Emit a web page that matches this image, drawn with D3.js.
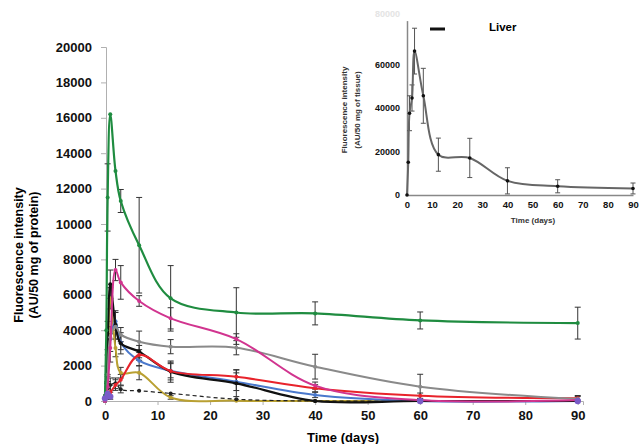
<!DOCTYPE html>
<html>
<head>
<meta charset="utf-8">
<script src="https://cdn.jsdelivr.net/npm/d3@7"></script>
<style>
	body { margin: 0; background: #fff; }
	text { font-family: "Liberation Sans", Arial, sans-serif; }
	.tick text { font-weight: bold; fill: #111; }
</style>
</head>
<body>
<div id="chart"></div>
<script>
//sampling times (days)
let days = [0, 0.25, 0.5, 1, 2, 3, 6.5, 12.5, 25, 40, 60, 90];

//organ series (AU/50 mg of protein)
let green = [300, 4000, 11500, 16200, 13000, 11300, 8800, 5800, 5000, 4950, 4550, 4400];
let greenErr = [0, 0, 1900, 0, 0, 650, 2700, 1850, 1400, 650, 480, 900];
let magenta = [0, 300, 800, 3000, 7400, 6700, 5650, 4670, 3500, 870, 50, 50];
let magentaErr = [0, 0, 300, 800, 600, 950, 300, 600, 300, 200, 0, 0];
let gray = [0, 500, 1500, 3600, 4200, 3750, 3350, 3070, 3010, 1940, 810, 110];
let grayErr = [0, 0, 0, 0, 0, 400, 600, 400, 400, 700, 700, 200];
let black = [0, 1000, 3000, 6600, 4300, 3260, 2790, 1660, 1000, 0, 0, 0];
let blackErr = [0, 0, 1500, 800, 800, 600, 350, 600, 750, 0, 0, 0];
let blue = [0, 800, 2000, 3500, 4500, 3300, 2280, 1710, 1090, 340, 0, 0];
let blueErr = [0, 0, 900, 700, 500, 400, 300, 400, 500, 150, 0, 0];
let red = [200, 300, 400, 500, 900, 1200, 2600, 1690, 1370, 720, 300, 150];
let redErr = [0, 0, 300, 400, 300, 300, 300, 500, 400, 200, 150, 100];
let yellow = [0, 500, 2000, 5800, 3000, 1600, 1600, 200, 20, 0, 0, 0];
let yellowErr = [0, 0, 600, 600, 500, 300, 400, 100, 0, 0, 0, 0];
let dashed = [300, 500, 700, 900, 1000, 660, 580, 430, 100, 0, 0, 0];
let dashedErr = [0, 0, 300, 400, 300, 200, 0, 0, 0, 0, 0, 0];

//purple group only shows as markers on the baseline
let purpleDays = [0, 0.5, 1, 60, 90];
let purple = [150, 400, 250, 0, 0];

//liver inset (AU/50 mg of tissue)
let liverDays = [0, 0.5, 1, 2, 3, 6.5, 12.5, 25, 40, 60, 90];
let liver = [0, 15000, 37500, 44500, 66000, 45500, 18500, 17000, 6500, 4000, 3000];
let liverErr = [0, 0, 8000, 6000, 10500, 12600, 7600, 9000, 6000, 3000, 2500];

let yTicks = d3.range(0, 20001, 2000);
let xTicks = d3.range(0, 91, 10);
let liverYTicks = [0, 20000, 40000, 60000];

let series = [
	{ values: yellow, err: yellowErr, color: "#b9a032", dash: null, width: 2 },
	{ values: dashed, err: dashedErr, color: "#222", dash: "4,3", width: 1.2 },
	{ values: blue, err: blueErr, color: "#4a78cc", dash: null, width: 2 },
	{ values: black, err: blackErr, color: "#111", dash: null, width: 2.2 },
	{ values: red, err: redErr, color: "#e8232b", dash: null, width: 2 },
	{ values: gray, err: grayErr, color: "#8a8a8a", dash: null, width: 2 },
	{ values: magenta, err: magentaErr, color: "#d1348f", dash: null, width: 2 },
	{ values: green, err: greenErr, color: "#1f8c40", dash: null, width: 2.2 }
];

let svg = d3.select("#chart")
	.append("svg")
	.attr("width", 639)
	.attr("height", 444);

// main scales
let x = d3.scaleLinear().domain([0, 91]).range([105, 583]);
let y = d3.scaleLinear().domain([0, 20000]).range([401, 47]);

let xAxis = svg.append("g")
	.attr("transform", "translate(0,401)")
	.call(d3.axisBottom(x).tickValues(xTicks).tickSize(4).tickPadding(6).tickFormat(d3.format("d")));
xAxis.selectAll("text").style("font-size", "13px");

let yAxis = svg.append("g")
	.attr("transform", "translate(106,0)")
	.call(d3.axisLeft(y).tickValues(yTicks).tickSize(5).tickPadding(9).tickFormat(d3.format("d")));
yAxis.selectAll("text").style("font-size", "13px");

svg.selectAll(".domain, .tick line").attr("stroke", "#b0b0b0");

svg.append("text")
	.attr("x", 343)
	.attr("y", 442)
	.attr("text-anchor", "middle")
	.style("font-size", "13px")
	.style("font-weight", "bold")
	.text("Time (days)");

svg.append("text")
	.attr("transform", "translate(23,255) rotate(-90)")
	.attr("text-anchor", "middle")
	.style("font-size", "12.5px")
	.style("font-weight", "bold")
	.text("Fluorescence intensity");

svg.append("text")
	.attr("transform", "translate(38,255) rotate(-90)")
	.attr("text-anchor", "middle")
	.style("font-size", "12.5px")
	.style("font-weight", "bold")
	.text("(AU/50 mg of protein)");

let line = d3.line()
	.x(function (d, i) { return x(days[i]); })
	.y(function (d) { return y(d); })
	.curve(d3.curveCatmullRom.alpha(0.5));

// error bars first, then the lines
series.forEach(function (s) {
	let bars = svg.append("g")
		.selectAll("g")
		.data(s.values.map(function (v, i) { return { t: days[i], v: v, e: s.err[i] }; })
			.filter(function (d) { return d.e > 0; }))
		.enter().append("g")
		.attr("stroke", "#333")
		.attr("stroke-width", 1);
	bars.append("line")
		.attr("x1", function (d) { return x(d.t); })
		.attr("x2", function (d) { return x(d.t); })
		.attr("y1", function (d) { return y(d.v + d.e); })
		.attr("y2", function (d) { return y(Math.max(0, d.v - d.e)); });
	bars.append("line")
		.attr("x1", function (d) { return x(d.t) - 3; })
		.attr("x2", function (d) { return x(d.t) + 3; })
		.attr("y1", function (d) { return y(d.v + d.e); })
		.attr("y2", function (d) { return y(d.v + d.e); });
	bars.append("line")
		.attr("x1", function (d) { return x(d.t) - 3; })
		.attr("x2", function (d) { return x(d.t) + 3; })
		.attr("y1", function (d) { return y(Math.max(0, d.v - d.e)); })
		.attr("y2", function (d) { return y(Math.max(0, d.v - d.e)); });
});

series.forEach(function (s) {
	svg.append("path")
		.datum(s.values)
		.attr("fill", "none")
		.attr("stroke", s.color)
		.attr("stroke-width", s.width)
		.attr("stroke-dasharray", s.dash)
		.attr("d", line);

	svg.append("g")
		.selectAll("circle")
		.data(s.values)
		.enter().append("circle")
		.attr("cx", function (d, i) { return x(days[i]); })
		.attr("cy", function (d) { return y(d); })
		.attr("r", 2)
		.attr("fill", s.color);
});

svg.append("g")
	.selectAll("circle")
	.data(purple)
	.enter().append("circle")
	.attr("cx", function (d, i) { return x(purpleDays[i]); })
	.attr("cy", function (d) { return y(d); })
	.attr("r", 3.2)
	.attr("fill", "#7a5cc8");

// liver inset
let lx = d3.scaleLinear().domain([0, 90]).range([407, 633]);
let ly = d3.scaleLinear().domain([0, 80000]).range([195, 20.6]);

let inset = svg.append("g");

let lxAxis = inset.append("g")
	.attr("transform", "translate(0,195)")
	.call(d3.axisBottom(lx).tickValues(xTicks).tickSize(0).tickPadding(6));
lxAxis.selectAll("text").style("font-size", "9.5px");

let lyAxis = inset.append("g")
	.attr("transform", "translate(407,0)")
	.call(d3.axisLeft(ly).tickValues(liverYTicks).tickSize(0).tickPadding(7).tickFormat(d3.format("d")));
lyAxis.selectAll("text").style("font-size", "9px");

inset.selectAll(".domain").attr("stroke", "#888").attr("stroke-width", 1.5);

inset.append("text")
	.attr("x", 400)
	.attr("y", 17)
	.attr("text-anchor", "end")
	.style("font-size", "9px")
	.style("font-weight", "bold")
	.style("fill", "#e4e4e4")
	.text("80000");

inset.append("text")
	.attr("x", 533)
	.attr("y", 223)
	.attr("text-anchor", "middle")
	.style("font-size", "8px")
	.style("font-weight", "bold")
	.style("fill", "#333")
	.text("Time (days)");

inset.append("text")
	.attr("transform", "translate(347,110) rotate(-90)")
	.attr("text-anchor", "middle")
	.style("font-size", "8px")
	.style("font-weight", "bold")
	.style("fill", "#333")
	.text("Fluorescence intensity");

inset.append("text")
	.attr("transform", "translate(360,110) rotate(-90)")
	.attr("text-anchor", "middle")
	.style("font-size", "8px")
	.style("font-weight", "bold")
	.style("fill", "#333")
	.text("(AU/50 mg of tissue)");

inset.append("line")
	.attr("x1", 430).attr("x2", 445)
	.attr("y1", 29).attr("y2", 29)
	.attr("stroke", "#111")
	.attr("stroke-width", 3);

inset.append("text")
	.attr("x", 489)
	.attr("y", 31)
	.style("font-size", "11.5px")
	.style("font-weight", "bold")
	.text("Liver");

let liverBars = inset.append("g")
	.selectAll("g")
	.data(liver.map(function (v, i) { return { t: liverDays[i], v: v, e: liverErr[i] }; })
		.filter(function (d) { return d.e > 0; }))
	.enter().append("g")
	.attr("stroke", "#555")
	.attr("stroke-width", 1);
liverBars.append("line")
	.attr("x1", function (d) { return lx(d.t); })
	.attr("x2", function (d) { return lx(d.t); })
	.attr("y1", function (d) { return ly(d.v + d.e); })
	.attr("y2", function (d) { return ly(Math.max(0, d.v - d.e)); });
liverBars.append("line")
	.attr("x1", function (d) { return lx(d.t) - 2.5; })
	.attr("x2", function (d) { return lx(d.t) + 2.5; })
	.attr("y1", function (d) { return ly(d.v + d.e); })
	.attr("y2", function (d) { return ly(d.v + d.e); });
liverBars.append("line")
	.attr("x1", function (d) { return lx(d.t) - 2.5; })
	.attr("x2", function (d) { return lx(d.t) + 2.5; })
	.attr("y1", function (d) { return ly(Math.max(0, d.v - d.e)); })
	.attr("y2", function (d) { return ly(Math.max(0, d.v - d.e)); });

inset.append("path")
	.datum(liver)
	.attr("fill", "none")
	.attr("stroke", "#666")
	.attr("stroke-width", 2)
	.attr("d", d3.line()
		.x(function (d, i) { return lx(liverDays[i]); })
		.y(function (d) { return ly(d); })
		.curve(d3.curveCatmullRom.alpha(0.5)));

inset.append("g")
	.selectAll("circle")
	.data(liver)
	.enter().append("circle")
	.attr("cx", function (d, i) { return lx(liverDays[i]); })
	.attr("cy", function (d) { return ly(d); })
	.attr("r", 1.8)
	.attr("fill", "#111");
</script>
</body>
</html>
